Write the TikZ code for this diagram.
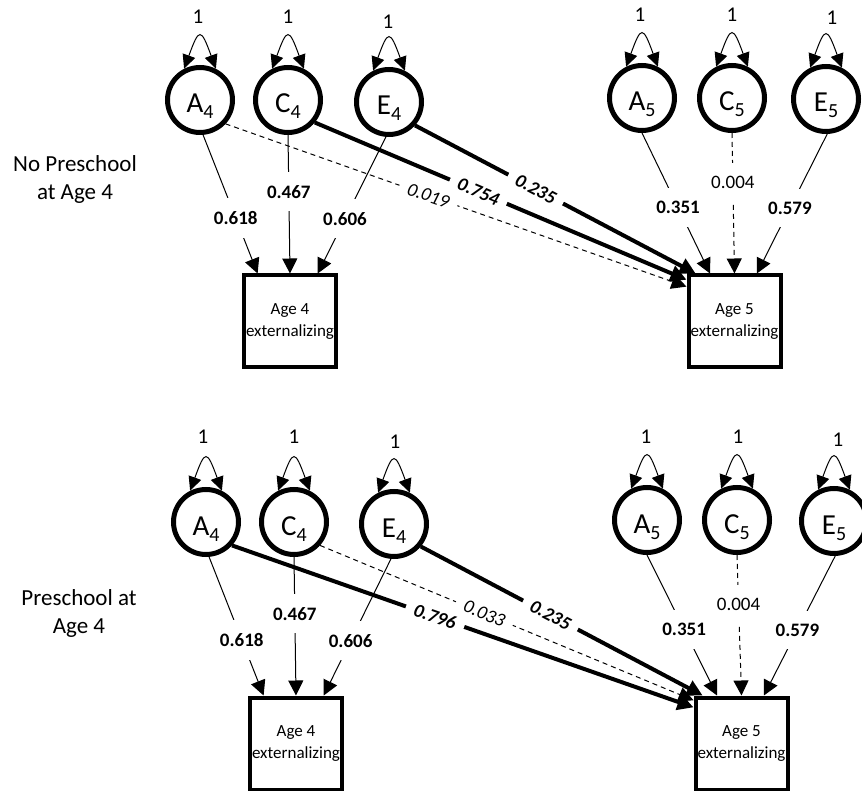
\documentclass[tikz,border=0pt]{standalone}
\usepackage{fontspec}
\setmainfont{Carlito}
\usetikzlibrary{arrows.meta}

\newcommand{\lvar}[2]{#1\raisebox{-6pt}[0pt][0pt]{\fontsize{20pt}{20pt}\selectfont #2}}

\begin{document}
\begin{tikzpicture}[x=1pt,y=-1pt,
  latent/.style={circle, draw, line width=5pt, minimum size=65pt, inner sep=0pt, text height=26pt, text depth=0pt, font=\fontsize{29pt}{29pt}\selectfont},
  obsbox/.style={rectangle, draw, line width=4pt, minimum width=92pt, minimum height=92pt, inner sep=0pt, align=center, font=\fontsize{17pt}{22pt}\selectfont},
  varnum/.style={inner sep=0pt, font=\fontsize{21pt}{21pt}\selectfont},
  grouplab/.style={align=center, inner sep=0pt, font=\fontsize{23pt}{28pt}\selectfont},
  varloop/.style={line width=1pt, {Triangle[length=14pt,width=13pt]}-{Triangle[length=14pt,width=13pt]}},
  thinpath/.style={line width=1pt, -{Triangle[length=15pt,width=15pt]}},
  thickpath/.style={line width=4pt, -{Triangle[length=16pt,width=16pt]}},
  nspath/.style={line width=1pt, dash pattern=on 5pt off 4pt, -{Triangle[length=15pt,width=15pt]}},
  coef/.style={fill=white, inner xsep=3pt, inner ysep=13pt, font=\fontsize{19pt}{19pt}\selectfont\bfseries},
  coefns/.style={coef, font=\fontsize{19pt}{19pt}\selectfont},
  slopecoef/.style={sloped, fill=white, inner xsep=9pt, inner ysep=1pt, font=\fontsize{19pt}{19pt}\selectfont\bfseries\itshape},
  slopens/.style={slopecoef, font=\fontsize{19pt}{19pt}\selectfont\itshape}]
\useasboundingbox (0,0) rectangle (862,791);

% group labels
\node[grouplab] (grpt) at (75,179) {No Preschool\\at Age 4};
\node[grouplab] (grpb) at (79,613) {Preschool at\\Age 4};

% no preschool
\node[latent] (A4t) at (200,100) {\lvar{A}{4}};
\node[latent] (C4t) at (288,100) {\lvar{C}{4}};
\node[latent] (E4t) at (389,102) {\lvar{E}{4}};
\node[latent] (A5t) at (642,98) {\lvar{A}{5}};
\node[latent] (C5t) at (732,98) {\lvar{C}{5}};
\node[latent] (E5t) at (826,99) {\lvar{E}{5}};
\node[obsbox] (box4t) at (290,321.5) {Age 4\\externalizing};
\node[obsbox] (box5t) at (734.5,321.5) {Age 5\\externalizing};
\node[varnum] (vA4t) at (198,17) {1};
\node[varnum] (vC4t) at (288,17) {1};
\node[varnum] (vE4t) at (388,22) {1};
\node[varnum] (vA5t) at (640,15) {1};
\node[varnum] (vC5t) at (732,15) {1};
\node[varnum] (vE5t) at (832,18) {1};
\draw[varloop] (A4t.117) .. controls +(-70:44) and +(-110:44) .. (A4t.63);
\draw[varloop] (C4t.117) .. controls +(-70:44) and +(-110:44) .. (C4t.63);
\draw[varloop] (E4t.117) .. controls +(-70:44) and +(-110:44) .. (E4t.63);
\draw[varloop] (A5t.117) .. controls +(-70:44) and +(-110:44) .. (A5t.63);
\draw[varloop] (C5t.117) .. controls +(-70:44) and +(-110:44) .. (C5t.63);
\draw[varloop] (E5t.117) .. controls +(-70:44) and +(-110:44) .. (E5t.63);
\draw[nspath] (A4t.-43) -- node[slopens, pos=0.44] {0.019} (box5t.144);
\draw[thickpath] (C4t.-40) -- node[slopecoef, pos=0.44] {0.754} (box5t.139);
\draw[thickpath] (E4t.-42) -- node[slopecoef, pos=0.43] {0.235} (box5t.129);
\draw[thinpath] (A4t.-85) -- node[coef, pos=0.6] {0.618} (box4t.124);
\draw[thinpath] (C4t.-90) -- node[coef, pos=0.41] {0.467} (box4t.90);
\draw[thinpath] (E4t.-95) -- node[coef, pos=0.6] {0.606} (box4t.60);
\draw[thinpath] (A5t.-90) -- node[coef, pos=0.53] {0.351} (box5t.117);
\draw[nspath] (C5t.-90) -- node[coefns, pos=0.35] {0.004} (box5t.90);
\draw[thinpath] (E5t.-88) -- node[coef, pos=0.53] {0.579} (box5t.65);

% preschool
\begin{scope}[shift={(6,422)}]
\node[latent] (A4b) at (200,100) {\lvar{A}{4}};
\node[latent] (C4b) at (288,100) {\lvar{C}{4}};
\node[latent] (E4b) at (388,102) {\lvar{E}{4}};
\node[latent] (A5b) at (641,98) {\lvar{A}{5}};
\node[latent] (C5b) at (731,98) {\lvar{C}{5}};
\node[latent] (E5b) at (828,99) {\lvar{E}{5}};
\node[obsbox] (box4b) at (290,321.5) {Age 4\\externalizing};
\node[obsbox] (box5b) at (735.5,321.5) {Age 5\\externalizing};
\node[varnum] (vA4b) at (197,15) {1};
\node[varnum] (vC4b) at (288,15) {1};
\node[varnum] (vE4b) at (389,20) {1};
\node[varnum] (vA5b) at (640,15) {1};
\node[varnum] (vC5b) at (732,15) {1};
\node[varnum] (vE5b) at (832,18) {1};
\draw[varloop] (A4b.117) .. controls +(-70:44) and +(-110:44) .. (A4b.63);
\draw[varloop] (C4b.117) .. controls +(-70:44) and +(-110:44) .. (C4b.63);
\draw[varloop] (E4b.117) .. controls +(-70:44) and +(-110:44) .. (E4b.63);
\draw[varloop] (A5b.117) .. controls +(-70:44) and +(-110:44) .. (A5b.63);
\draw[varloop] (C5b.117) .. controls +(-70:44) and +(-110:44) .. (C5b.63);
\draw[varloop] (E5b.117) .. controls +(-70:44) and +(-110:44) .. (E5b.63);
\draw[thickpath] (A4b.-42) -- node[slopecoef, pos=0.44] {0.796} (box5b.143);
\draw[nspath] (C4b.-42) -- node[slopens, pos=0.44] {0.033} (box5b.138);
\draw[thickpath] (E4b.-40) -- node[slopecoef, pos=0.46] {0.235} (box5b.129);
\draw[thinpath] (A4b.-85) -- node[coef, pos=0.6] {0.618} (box4b.124);
\draw[thinpath] (C4b.-90) -- node[coef, pos=0.41] {0.467} (box4b.90);
\draw[thinpath] (E4b.-95) -- node[coef, pos=0.6] {0.606} (box4b.60);
\draw[thinpath] (A5b.-90) -- node[coef, pos=0.53] {0.351} (box5b.117);
\draw[nspath] (C5b.-90) -- node[coefns, pos=0.35] {0.004} (box5b.90);
\draw[thinpath] (E5b.-88) -- node[coef, pos=0.53] {0.579} (box5b.65);
\end{scope}
\end{tikzpicture}
\end{document}
